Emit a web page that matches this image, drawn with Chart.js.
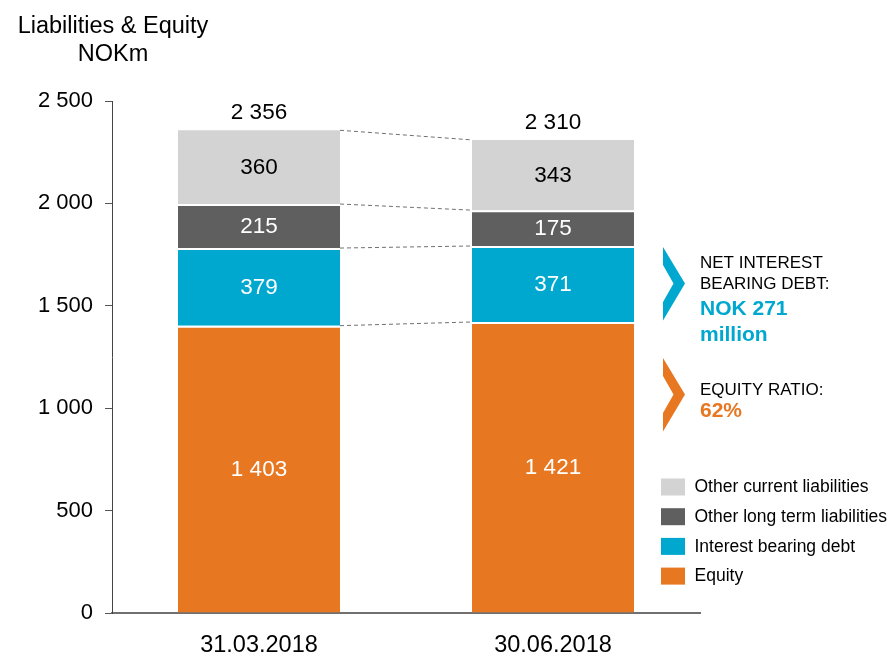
<!DOCTYPE html>
<html>
<head>
<meta charset="utf-8">
<script src="https://cdn.jsdelivr.net/npm/chart.js@4"></script>
<style>
  html, body { margin: 0; padding: 0; background: #fff; }
  #wrap { width: 890px; height: 653px; position: relative; }
</style>
</head>
<body>
<div id="wrap"><canvas id="c" width="890" height="653"></canvas></div>
<script>
const FONT = '"Liberation Sans", Arial, Helvetica, sans-serif';

const categories = ['31.03.2018', '30.06.2018'];
const equity = [1403, 1421];
const interestBearingDebt = [379, 371];
const otherLongTerm = [215, 175];
const otherCurrent = [360, 343];
const totals = [2356, 2310];
const yTickValues = [0, 500, 1000, 1500, 2000, 2500];

const seriesNames = ['Equity', 'Interest bearing debt', 'Other long term liabilities', 'Other current liabilities'];
const seriesColors = ['#E87722', '#00A8CF', '#5F5F5F', '#D3D3D3'];
const labelColors = ['#ffffff', '#ffffff', '#ffffff', '#000000'];

const titleLines = ['Liabilities & Equity', 'NOKm'];
const netDebtLines = ['NET INTEREST', 'BEARING DEBT:'];
const netDebtValue = ['NOK 271', 'million'];
const equityRatioLabel = 'EQUITY RATIO:';
const equityRatioValue = '62%';

function fmt(n) {
  return String(n).replace(/\B(?=(\d{3})+(?!\d))/g, ' ');
}

const seriesData = [equity, interestBearingDebt, otherLongTerm, otherCurrent];

const datasets = seriesData.map((d, i) => ({
  label: seriesNames[i],
  data: d,
  backgroundColor: seriesColors[i],
  borderColor: 'rgba(255,255,255,0.8)',
  borderWidth: i === seriesData.length - 1 ? 0 : { top: 2, left: 0, right: 0, bottom: 0 },
  borderSkipped: 'start',
  categoryPercentage: 1,
  barPercentage: 0.551
}));

const overlay = {
  id: 'overlay',
  afterDatasetsDraw(chart) {
    const ctx = chart.ctx;
    const metas = chart.data.datasets.map((_, i) => chart.getDatasetMeta(i));
    ctx.save();
    // dashed connectors
    ctx.strokeStyle = '#707070';
    ctx.lineWidth = 1;
    ctx.setLineDash([4, 3]);
    metas.forEach(meta => {
      for (let i = 0; i < meta.data.length - 1; i++) {
        const a = meta.data[i], b = meta.data[i + 1];
        ctx.beginPath();
        ctx.moveTo(a.x + a.width / 2, a.y);
        ctx.lineTo(b.x - b.width / 2, b.y);
        ctx.stroke();
      }
    });
    ctx.setLineDash([]);
    // segment labels
    ctx.textAlign = 'center';
    ctx.textBaseline = 'middle';
    ctx.font = '22.5px ' + FONT;
    metas.forEach((meta, di) => {
      meta.data.forEach((el, i) => {
        ctx.fillStyle = labelColors[di];
        ctx.fillText(fmt(chart.data.datasets[di].data[i]), el.x, (el.y + el.base) / 2 + 1);
      });
    });
    // totals
    const top = metas[metas.length - 1];
    ctx.fillStyle = '#000';
    top.data.forEach((el, i) => {
      ctx.fillText(fmt(totals[i]), el.x, el.y - 17);
    });
    ctx.restore();
  },
  afterDraw(chart) {
    const ctx = chart.ctx;
    ctx.save();
    // title
    ctx.fillStyle = '#000';
    ctx.textAlign = 'center';
    ctx.textBaseline = 'alphabetic';
    ctx.font = '23.5px ' + FONT;
    ctx.fillText(titleLines[0], 113, 33);
    ctx.fillText(titleLines[1], 113, 61);

    // chevrons
    function chevron(y0, color) {
      ctx.fillStyle = color;
      ctx.beginPath();
      ctx.moveTo(663, y0);
      ctx.lineTo(685, y0 + 36.5);
      ctx.lineTo(663, y0 + 73.5);
      ctx.lineTo(663, y0 + 55);
      ctx.lineTo(673.5, y0 + 36.5);
      ctx.lineTo(663, y0 + 18);
      ctx.closePath();
      ctx.fill();
    }
    chevron(247, '#00A8CF');
    chevron(358, '#E87722');

    // annotation texts
    ctx.textAlign = 'left';
    ctx.fillStyle = '#000';
    ctx.font = '17px ' + FONT;
    ctx.fillText(netDebtLines[0], 700, 268);
    ctx.fillText(netDebtLines[1], 700, 288.5);
    ctx.fillStyle = '#00A8CF';
    ctx.font = 'bold 21px ' + FONT;
    ctx.fillText(netDebtValue[0], 700, 314.5);
    ctx.fillText(netDebtValue[1], 700, 340.5);
    ctx.fillStyle = '#000';
    ctx.font = '17px ' + FONT;
    ctx.fillText(equityRatioLabel, 700, 395);
    ctx.fillStyle = '#E87722';
    ctx.font = 'bold 21px ' + FONT;
    ctx.fillText(equityRatioValue, 700, 417);

    // legend (top to bottom: reverse of stacking order)
    ctx.font = '17.5px ' + FONT;
    ctx.textBaseline = 'middle';
    const order = [3, 2, 1, 0];
    order.forEach((di, r) => {
      const y = 478.5 + r * 29.7;
      ctx.fillStyle = seriesColors[di];
      ctx.fillRect(661, y, 24, 17);
      ctx.fillStyle = '#000';
      ctx.fillText(seriesNames[di], 694.5, y + 9);
    });
    ctx.restore();
  }
};

new Chart(document.getElementById('c'), {
  type: 'bar',
  data: { labels: categories, datasets },
  options: {
    responsive: false,
    animation: false,
    events: [],
    layout: { padding: { top: 101, right: 190, left: 0, bottom: 0 } },
    plugins: { legend: { display: false }, tooltip: { enabled: false }, title: { display: false } },
    scales: {
      x: {
        stacked: true,
        grid: { display: false },
        border: { display: true, color: '#707070', width: 2 },
        ticks: { color: '#000', font: { family: FONT, size: 23.5 }, padding: 10 },
        afterFit(scale) { scale.height = 40; }
      },
      y: {
        stacked: true,
        min: 0,
        max: 2500,
        afterBuildTicks(scale) { scale.ticks = yTickValues.map(v => ({ value: v })); },
        grid: { display: true, drawOnChartArea: false, drawTicks: true, tickLength: 7, color: '#555555', lineWidth: 1 },
        border: { display: true, color: '#444444', width: 1 },
        ticks: { color: '#000', font: { family: FONT, size: 22 }, padding: 12, callback: v => fmt(v) },
        afterFit(scale) { scale.width = 112; }
      }
    }
  },
  plugins: [overlay]
});
</script>
</body>
</html>
